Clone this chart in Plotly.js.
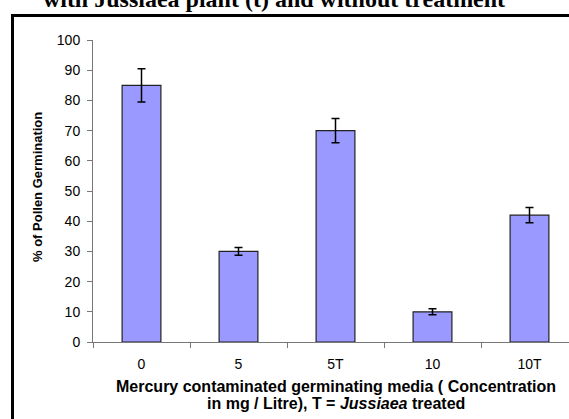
<!DOCTYPE html>
<html>
<head>
<meta charset="utf-8">
<script src="https://cdn.plot.ly/plotly-3.0.1.min.js"></script>
<style>
html, body { margin:0; padding:0; width:569px; height:419px; overflow:hidden; background:#fff; }
#frame { position:absolute; left:11px; top:14px; width:600px; height:500px; border-left:3px solid #000; border-top:3px solid #000; pointer-events:none; z-index:5; }
#chart { position:absolute; left:0; top:0; }
</style>
</head>
<body>
<div id="chart"></div>
<div id="frame"></div>
<script>
const categories = ["0", "5", "5T", "10", "10T"];
const germination = [85, 30, 70, 10, 42];
const errors = [5.5, 1.3, 4, 1, 2.5];
const yTicks = [0, 10, 20, 30, 40, 50, 60, 70, 80, 90, 100];

const trace = {
  type: 'bar',
  x: categories,
  y: germination,
  width: 0.4,
  marker: { color: '#9999FF', line: { color: '#222222', width: 1.2 } },
  error_y: { type: 'data', array: errors, visible: true, color: '#000000', thickness: 1.5, width: 4 },
  hoverinfo: 'none'
};

const layout = {
  width: 578, height: 419,
  margin: { l: 93, r: 0, t: 40, b: 77 },
  paper_bgcolor: 'rgba(0,0,0,0)', plot_bgcolor: 'rgba(0,0,0,0)',
  showlegend: false,
  font: { family: 'Arial, "Liberation Sans", sans-serif', color: '#000' },
  title: {
    text: '<b>with Jussiaea plant (t) and without treatment</b>',
    font: { family: '"Times New Roman", "Liberation Serif", serif', size: 24, color: '#000' },
    xref: 'container', yref: 'container', x: 274 / 578, xanchor: 'center',
    y: 1 - 7 / 419, yanchor: 'bottom'
  },
  xaxis: {
    type: 'category', range: [-0.5, 4.5], tickson: 'boundaries',
    ticks: 'outside', ticklen: 5, tickcolor: '#777', tickwidth: 1,
    showline: true, linecolor: '#777', linewidth: 1, showgrid: false, zeroline: false,
    ticklabelstandoff: 9,
    tickfont: { size: 14, color: '#000' }, fixedrange: true
  },
  yaxis: {
    range: [0, 100], tickvals: yTicks, ticks: 'outside', ticklen: 5, tickcolor: '#777', tickwidth: 1,
    showline: true, linecolor: '#777', linewidth: 1, showgrid: false, zeroline: false,
    ticklabelstandoff: 4,
    tickfont: { size: 14, color: '#000' }, fixedrange: true
  },
  annotations: [
    {
      text: '<b>% of Pollen Germination</b>', textangle: -90,
      xref: 'paper', yref: 'paper', x: (37 - 93) / 485, y: (342 - 187) / 302,
      xanchor: 'center', yanchor: 'middle', showarrow: false,
      font: { size: 13, color: '#000' }
    },
    {
      text: '<b>Mercury contaminated germinating media ( Concentration</b>',
      xref: 'paper', yref: 'paper', x: 0.5, y: -(386 - 342) / 302,
      xanchor: 'center', yanchor: 'middle', showarrow: false,
      font: { size: 16, color: '#000' }
    },
    {
      text: '<b>in mg / Litre), T = <i>Jussiaea</i> treated</b>',
      xref: 'paper', yref: 'paper', x: 0.5, y: -(403 - 342) / 302,
      xanchor: 'center', yanchor: 'middle', showarrow: false,
      font: { size: 16, color: '#000' }
    }
  ]
};

Plotly.newPlot('chart', [trace], layout, { displayModeBar: false, staticPlot: true });
</script>
</body>
</html>
